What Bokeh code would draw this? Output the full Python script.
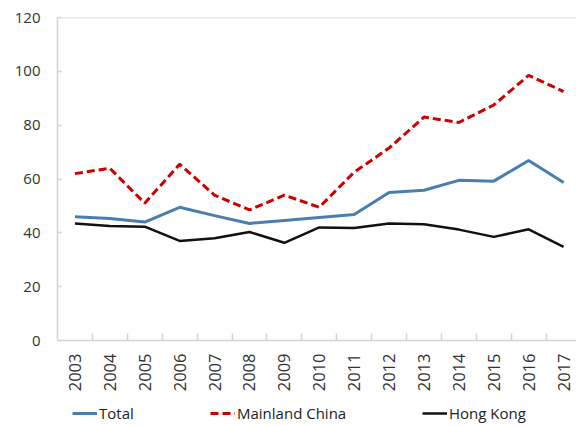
from bokeh.plotting import figure
from bokeh.layouts import column
from bokeh.models import FixedTicker, Span, Legend, LegendItem, Range1d
from bokeh.embed import file_html
from bokeh.resources import INLINE
import math

years = ["2003", "2004", "2005", "2006", "2007", "2008", "2009", "2010",
         "2011", "2012", "2013", "2014", "2015", "2016", "2017"]
total = [46.0, 45.3, 44.0, 49.5, 46.4, 43.5, 44.6, 45.7, 46.8, 55.0, 55.8, 59.5, 59.2, 66.9, 58.7]
mainland = [62.0, 64.0, 51.0, 65.5, 54.0, 48.5, 54.0, 49.5, 62.5, 71.5, 83.0, 81.0, 87.5, 98.5, 92.5]
hongkong = [43.5, 42.5, 42.3, 37.0, 38.0, 40.3, 36.3, 42.0, 41.8, 43.5, 43.2, 41.2, 38.5, 41.3, 34.8]
y_ticks = [0, 20, 40, 60, 80, 100, 120]
series_names = ["Total", "Mainland China", "Hong Kong"]

FONT = "Open Sans"
BLUE, RED, BLACK = "#4a7eb0", "#cc0000", "#111111"
GRAY = "#d4d4d4"
x = list(range(len(years)))

p = figure(width=576, height=400, output_backend="svg", toolbar_location=None,
           x_range=Range1d(-0.5, 14.37), y_range=Range1d(0, 120),
           min_border_left=57, min_border_right=0, min_border_top=17, min_border_bottom=60)
p.outline_line_color = None
p.grid.visible = False

p.line(x, total, line_color=BLUE, line_width=3)
p.line(x, mainland, line_color=RED, line_width=3, line_dash="8 4")
p.line(x, hongkong, line_color=BLACK, line_width=2.5)

p.add_layout(Span(location=120, dimension="width", line_color=GRAY, line_width=1.5))

xa = p.xaxis[0]
xa.ticker = FixedTicker(ticks=x, minor_ticks=[i + 0.5 for i in x])
xa.major_label_overrides = {i: y for i, y in enumerate(years)}
xa.major_label_orientation = math.pi / 2
xa.major_tick_in = 0
xa.major_tick_out = 0
xa.minor_tick_in = 7
xa.minor_tick_out = 0
xa.minor_tick_line_color = GRAY
xa.minor_tick_line_width = 1.5
xa.axis_line_color = GRAY
xa.axis_line_width = 1.5
xa.major_label_text_font = FONT
xa.major_label_text_font_size = "16.5px"
xa.major_label_text_color = "#333333"
xa.major_label_standoff = 13

ya = p.yaxis[0]
ya.ticker = FixedTicker(ticks=y_ticks)
ya.minor_tick_line_color = None
ya.major_tick_in = 4
ya.major_tick_out = 0
ya.major_tick_line_color = GRAY
ya.major_tick_line_width = 1.5
ya.axis_line_color = GRAY
ya.axis_line_width = 1.5
ya.major_label_text_font = FONT
ya.major_label_text_font_size = "15px"
ya.major_label_text_color = "#333333"
ya.major_label_standoff = 17

# legend strip below the chart (its frame is aligned with the chart frame)
lf = figure(width=576, height=26, output_backend="svg", toolbar_location=None,
            x_axis_type=None, y_axis_type=None, x_range=Range1d(0, 1), y_range=Range1d(0, 1),
            min_border_left=57, min_border_right=0, min_border_top=0, min_border_bottom=0)
lf.outline_line_color = None
lf.grid.visible = False
nan = [float("nan")]
d_tot = lf.line(nan, nan, line_color=BLUE, line_width=3)
d_mc = lf.line(nan, nan, line_color=RED, line_width=3, line_dash="8 4")
d_hk = lf.line(nan, nan, line_color=BLACK, line_width=2.5)

for name, rend, xloc in zip(series_names, [d_tot, d_mc, d_hk], [15, 153, 365]):
    lg = Legend(items=[LegendItem(label=name, renderers=[rend])],
                location=(xloc, 3), orientation="horizontal",
                border_line_color=None, background_fill_alpha=0,
                glyph_width=25, glyph_height=20, label_height=20,
                label_standoff=2, padding=0, margin=0,
                label_text_font=FONT, label_text_font_size="15px",
                label_text_color="#222222")
    lf.add_layout(lg, "center")

layout = column(p, lf, spacing=0)
open("out.html", "w").write(file_html(layout, INLINE))
